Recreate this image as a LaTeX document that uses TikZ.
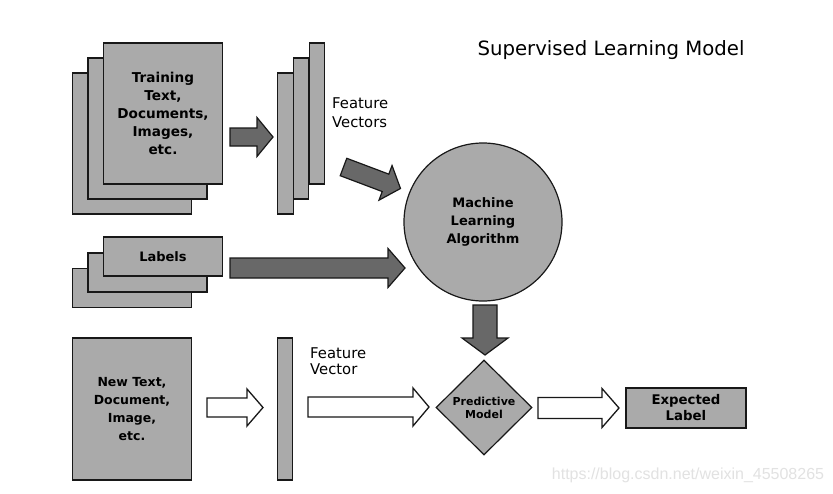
\documentclass[tikz,border=0pt]{standalone}
\usepackage{fontspec}
\setmainfont{DejaVu Sans}
\newfontfamily\markfont{Liberation Sans}
\usetikzlibrary{calc,shapes.geometric}

\definecolor{boxgray}{RGB}{170,170,170}
\definecolor{arrowgray}{RGB}{104,104,104}
\definecolor{edgegray}{RGB}{24,24,24}
\definecolor{markgray}{RGB}{226,226,226}

\tikzset{
  sheet/.style={draw=edgegray, line width=1.2pt, fill=boxgray, inner sep=0pt},
  docbox/.style={sheet, minimum width=119pt, minimum height=141pt},
  tagbox/.style={sheet, minimum width=119pt, minimum height=39pt},
  vecbar/.style={sheet, minimum width=15.5pt, minimum height=141pt},
  boxtext/.style={font=\bfseries\fontsize{13}{18}\selectfont, align=center},
  plain/.style={font=\fontsize{14.8}{16}\selectfont, align=left, inner sep=0pt},
  darkarrow/.style={draw=edgegray, line width=1.2pt, fill=arrowgray, line join=miter},
  openarrow/.style={draw=edgegray, line width=1.3pt, fill=white, line join=miter},
}

% block arrow: style, from, to, shaft half width, head half width, head length
\newcommand\blockarrow[6]{%
  \path[#1] let \p1=($(#3)-(#2)$), \n1={atan2(\y1,\x1)}, \n2={veclen(\x1,\y1)} in
    [shift={(#2)}, rotate=\n1]
    (0pt,#4pt) -- ({\n2-#6pt},#4pt) -- ({\n2-#6pt},#5pt) -- (\n2,0pt)
    -- ({\n2-#6pt},-#5pt) -- ({\n2-#6pt},-#4pt) -- (0pt,-#4pt) -- cycle;}

\begin{document}
\begin{tikzpicture}[x=1pt, y=-1pt]
  \useasboundingbox[fill=white] (0,0) rectangle (833,493);

  % title
  \node[font=\fontsize{19.7}{23}\selectfont] (title) at (611,50) {Supervised Learning Model};

  % stack of training documents
  \node[docbox] (trainC) at (132,143.5) {};
  \node[docbox] (trainB) at (147.5,128.5) {};
  \node[docbox, boxtext, font=\bfseries\fontsize{13.6}{18}\selectfont] (trainA) at (163,113.5) {Training\\Text,\\Documents,\\Images,\\etc.};

  % stack of feature vectors
  \node[vecbar] (vecC) at (285.5,143.5) {};
  \node[vecbar] (vecB) at (301,128.5) {};
  \node[vecbar] (vecA) at (317,113.5) {};
  \node[plain, anchor=west, font=\fontsize{14.8}{19}\selectfont] (featA) at (332,112.5) {Feature\\Vectors};

  % stack of labels
  \node[tagbox] (labC) at (132,288) {};
  \node[tagbox] (labB) at (147.5,272.5) {};
  \node[tagbox, boxtext] (labA) at (163,256.5) {Labels};

  % learning algorithm
  \node[sheet, circle, minimum size=158pt, boxtext] (mla) at (483,222) {Machine\\Learning\\Algorithm};

  % new sample
  \node[docbox, boxtext, minimum height=142pt, font=\bfseries\fontsize{12.5}{18}\selectfont] (newdoc) at (132,409) {New Text,\\Document,\\Image,\\etc.};
  \node[vecbar, minimum height=142pt] (newvec) at (285,409) {};
  \node[plain, anchor=west] (featB) at (310,361) {Feature\\Vector};

  % predictive model and output
  \node[sheet, diamond, minimum width=96pt, minimum height=95pt,
        font=\bfseries\fontsize{11}{13}\selectfont, align=center] (pm) at (484,407.5) {Predictive\\Model};
  \node[sheet, minimum width=120pt, minimum height=40pt, font=\bfseries\fontsize{13.3}{16}\selectfont, align=center] (exp) at (686,408) {Expected\\Label};

  % arrow end points
  \coordinate (a1s) at (230,137);   \coordinate (a1e) at (273,137);
  \coordinate (a2s) at (343.5,167); \coordinate (a2e) at (400.5,188.5);
  \coordinate (a3s) at (230,268);   \coordinate (a3e) at (405,268);
  \coordinate (a4s) at (485,305);   \coordinate (a4e) at (485,355);
  \coordinate (a5s) at (207,407.5); \coordinate (a5e) at (263,407.5);
  \coordinate (a6s) at (308,407);   \coordinate (a6e) at (429,407);
  \coordinate (a7s) at (538,408);   \coordinate (a7e) at (619,408);

  % training flow
  \blockarrow{darkarrow}{a1s}{a1e}{9}{19.5}{16}
  \blockarrow{darkarrow}{a2s}{a2e}{9.3}{18.5}{16}
  \blockarrow{darkarrow}{a3s}{a3e}{10}{19.5}{17}
  \blockarrow{darkarrow}{a4s}{a4e}{12}{23}{17}

  % prediction flow
  \blockarrow{openarrow}{a5s}{a5e}{9.5}{18.5}{16}
  \blockarrow{openarrow}{a6s}{a6e}{10}{19}{16}
  \blockarrow{openarrow}{a7s}{a7e}{10.5}{19.5}{17}

  % source address
  \node[font=\markfont\fontsize{16}{18}\selectfont, text=markgray] (src) at (688,475) {https://blog.csdn.net/weixin\_45508265};
\end{tikzpicture}
\end{document}
